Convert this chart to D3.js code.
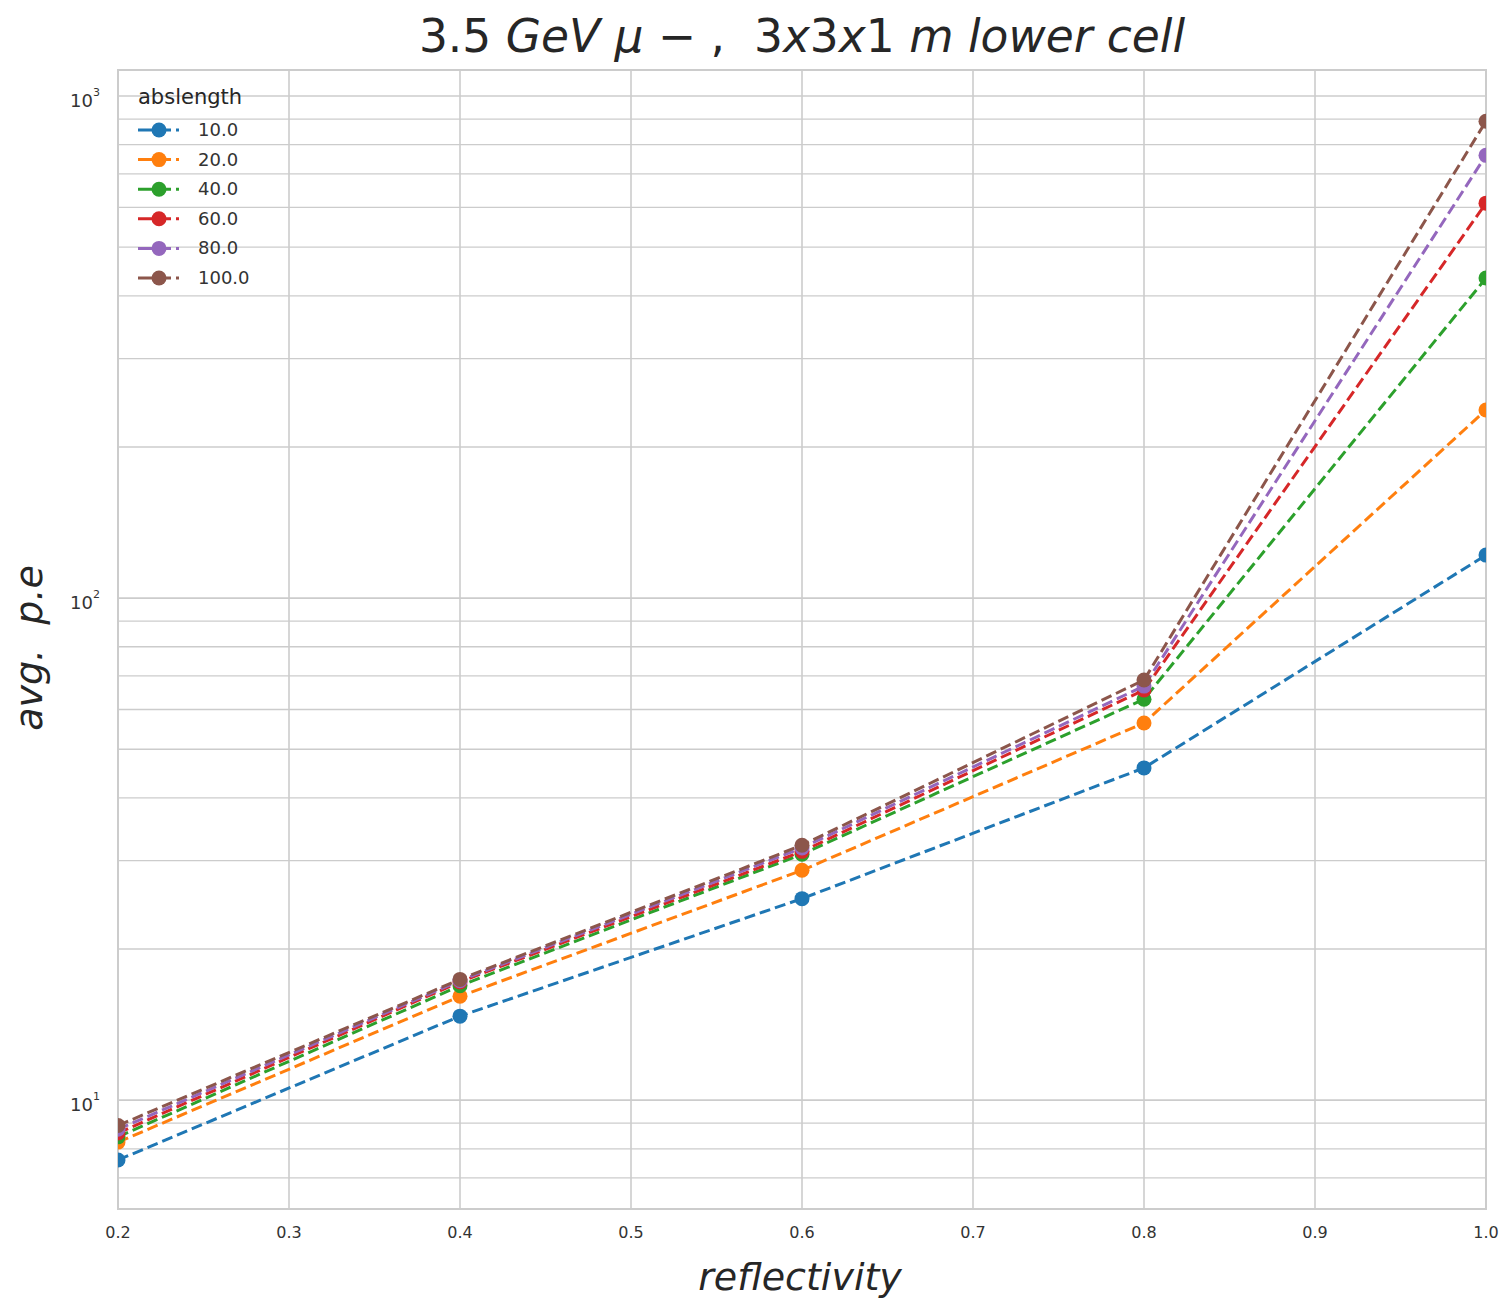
<!DOCTYPE html>
<html>
<head>
<meta charset="utf-8">
<script src="https://cdn.jsdelivr.net/npm/d3@7"></script>
<style>
  html, body { margin: 0; padding: 0; background: #fff; }
  svg { display: block; }
  text { font-family: "DejaVu Sans", sans-serif; }
</style>
</head>
<body>
<script>
const reflectivity = [0.2, 0.4, 0.6, 0.8, 1.0];
const absLengths = ["10.0", "20.0", "40.0", "60.0", "80.0", "100.0"];
const pe10  = [7.6, 14.7, 25.2, 45.9, 121.8];
const pe20  = [8.25, 16.1, 28.7, 56.4, 237];
const pe40  = [8.45, 16.9, 30.9, 62.9, 434];
const pe60  = [8.6, 17.2, 31.3, 65.6, 612];
const pe80  = [8.75, 17.3, 31.8, 66.8, 762];
const pe100 = [8.9, 17.4, 32.2, 68.7, 891];
const seriesValues = [pe10, pe20, pe40, pe60, pe80, pe100];
const colors = ["#1f77b4", "#ff7f0e", "#2ca02c", "#d62728", "#9467bd", "#8c564b"];
const xTicks = [0.2, 0.3, 0.4, 0.5, 0.6, 0.7, 0.8, 0.9, 1.0];
const yMajorTicks = [10, 100, 1000];
const yTickExponents = ["1", "2", "3"];

const W = 1501, H = 1299;
const m = {left: 118, right: 1486, top: 70, bottom: 1209};

const svg = d3.select("body").append("svg").attr("width", W).attr("height", H);

const x = d3.scaleLinear().domain([0.2, 1.0]).range([m.left, m.right]);
const y = d3.scaleLog().domain([6.07, 1127]).range([m.bottom, m.top]);

const grid = "#cccccc";
const minor = [];
for (let k = 0; k <= 3; k++) for (let j = 2; j <= 9; j++) {
  const v = j * Math.pow(10, k);
  if (v > y.domain()[0] && v < y.domain()[1]) minor.push(v);
}
svg.append("g").selectAll("line").data(minor).join("line")
  .attr("x1", m.left).attr("x2", m.right)
  .attr("y1", d => y(d)).attr("y2", d => y(d))
  .attr("stroke", grid).attr("stroke-width", 1.3);
svg.append("g").selectAll("line").data(yMajorTicks).join("line")
  .attr("x1", m.left).attr("x2", m.right)
  .attr("y1", d => y(d)).attr("y2", d => y(d))
  .attr("stroke", grid).attr("stroke-width", 1.6);
svg.append("g").selectAll("line").data(xTicks).join("line")
  .attr("x1", d => x(d)).attr("x2", d => x(d))
  .attr("y1", m.top).attr("y2", m.bottom)
  .attr("stroke", grid).attr("stroke-width", 1.6);

svg.append("rect").attr("x", m.left).attr("y", m.top)
  .attr("width", m.right - m.left).attr("height", m.bottom - m.top)
  .attr("fill", "none").attr("stroke", grid).attr("stroke-width", 2);

svg.append("defs").append("clipPath").attr("id", "clip")
  .append("rect").attr("x", m.left).attr("y", m.top)
  .attr("width", m.right - m.left).attr("height", m.bottom - m.top);

const plot = svg.append("g").attr("clip-path", "url(#clip)");
const line = d3.line().x((d, i) => x(reflectivity[i])).y(d => y(d));
seriesValues.forEach((vals, si) => {
  const g = plot.append("g");
  g.append("path").datum(vals).attr("d", line)
    .attr("fill", "none").attr("stroke", colors[si])
    .attr("stroke-width", 3).attr("stroke-dasharray", "11,5");
  g.selectAll("circle").data(vals).join("circle")
    .attr("cx", (d, i) => x(reflectivity[i])).attr("cy", d => y(d))
    .attr("r", 7.5).attr("fill", colors[si]);
});

svg.append("g").selectAll("text").data(xTicks).join("text")
  .attr("x", d => x(d)).attr("y", 1238)
  .attr("text-anchor", "middle").attr("font-size", 16).attr("fill", "#333")
  .text(d => d.toFixed(1));

yMajorTicks.forEach((v, i) => {
  const t = svg.append("text").attr("x", 100).attr("y", y(v) + 11)
    .attr("text-anchor", "end").attr("font-size", 18).attr("fill", "#333");
  t.append("tspan").text("10");
  t.append("tspan").attr("dy", -11).attr("font-size", 11).text(yTickExponents[i]);
});

const title = svg.append("text").attr("x", 802).attr("y", 52)
  .attr("text-anchor", "middle").attr("font-size", 45.5).attr("fill", "#262626")
  .attr("xml:space", "preserve");
title.append("tspan").text("3.5 ");
title.append("tspan").attr("font-style", "italic").text("GeV μ");
title.append("tspan").text(" − ,  3");
title.append("tspan").attr("font-style", "italic").text("x");
title.append("tspan").text("3");
title.append("tspan").attr("font-style", "italic").text("x");
title.append("tspan").text("1 ");
title.append("tspan").attr("font-style", "italic").text("m lower cell");

svg.append("text").attr("x", 800).attr("y", 1290)
  .attr("text-anchor", "middle").attr("font-size", 38).attr("font-style", "italic")
  .attr("fill", "#262626").text("reflectivity");
svg.append("text").attr("transform", "translate(42,648) rotate(-90)")
  .attr("text-anchor", "middle").attr("font-size", 38).attr("font-style", "italic")
  .attr("fill", "#262626").attr("xml:space", "preserve").text("avg.  p.e");

const leg = svg.append("g");
leg.append("text").attr("x", 138).attr("y", 104).attr("font-size", 21)
  .attr("fill", "#262626").text("abslength");
absLengths.forEach((lab, i) => {
  const yy = 130 + i * 29.6;
  leg.append("line").attr("x1", 138).attr("x2", 181).attr("y1", yy).attr("y2", yy)
    .attr("stroke", colors[i]).attr("stroke-width", 3).attr("stroke-dasharray", "33,5,3,20");
  leg.append("circle").attr("cx", 159).attr("cy", yy).attr("r", 7.5).attr("fill", colors[i]);
  leg.append("text").attr("x", 198).attr("y", yy + 6).attr("font-size", 18)
    .attr("fill", "#333").text(lab);
});
</script>
</body>
</html>
